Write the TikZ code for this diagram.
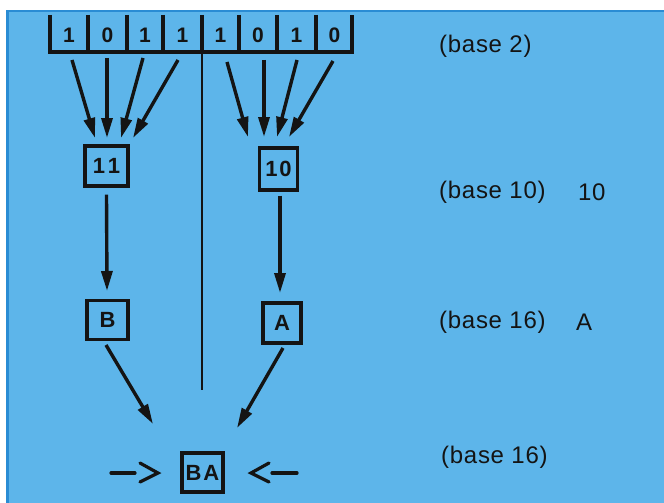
\documentclass[tikz,border=0pt]{standalone}
\usepackage{fontspec}
\setmainfont{Liberation Sans}
\newfontfamily\lblfont[LetterSpace=3]{Liberation Sans}
\newfontfamily\digfont[LetterSpace=8]{Liberation Sans}
\usetikzlibrary{arrows.meta}
\definecolor{bgblue}{HTML}{5DB5EA}
\definecolor{edgeblue}{HTML}{2A8CD4}
\definecolor{ink}{HTML}{141414}
\tikzset{
  bitlbl/.style={font=\fontsize{21}{21}\selectfont\bfseries, text=ink, inner sep=0pt},
  valbox/.style={draw=ink, line width=3.2pt, minimum width=41pt, minimum height=39pt, inner sep=0pt,
                 font=\digfont\fontsize{22}{22}\selectfont\bfseries, text=ink},
  flow/.style={draw=ink, line width=3.4pt, -{Triangle[length=20pt,width=11pt]}},
  baselbl/.style={anchor=west, font=\lblfont\fontsize{24}{24}\selectfont, text=ink, inner sep=0pt},
  regline/.style={draw=ink, line width=3.2pt},
  pointer/.style={draw=ink, line width=3.2pt, line cap=round, line join=miter}
}
\begin{document}
\begin{tikzpicture}[x=1pt,y=-1pt]
\useasboundingbox (0,0) rectangle (664,503);
\fill[white] (0,0) rectangle (664,503);
\fill[bgblue] (7,10) rectangle (664,503);
\draw[edgeblue, line width=2.5pt] (7.5,503) -- (7.5,11) -- (664,11);

% register
\draw[regline] (50,15) -- (50,52) -- (352,52) -- (352,15);
\foreach \x in {88,127,163,239,277,316} {\draw[regline] (\x,15) -- (\x,52);}
\draw[draw=ink, line width=3.2pt] (202,15) -- (202,52);
\draw[draw=ink, line width=1.6pt] (202,52) -- (202,390);

\node[bitlbl] (b1) at (69,35) {1};
\node[bitlbl] (b2) at (107.5,35) {0};
\node[bitlbl] (b3) at (145,35) {1};
\node[bitlbl] (b4) at (182.5,35) {1};
\node[bitlbl] (b5) at (220.5,35) {1};
\node[bitlbl] (b6) at (258,35) {0};
\node[bitlbl] (b7) at (296.5,35) {1};
\node[bitlbl] (b8) at (334.5,35) {0};

% boxes
\node[valbox, minimum width=43pt, minimum height=40pt] (n11) at (106.5,166) {1\kern3pt1};
\node[valbox, minimum width=38pt, minimum height=42pt] (n10) at (278.5,169) {10};
\node[valbox] (nB) at (107.5,320) {B};
\node[valbox, minimum width=38pt, minimum height=40pt] (nA) at (282,323) {A};
\node[valbox] (nBA) at (202.5,472.5) {BA};

% arrow start / end points
\coordinate (s1) at (72,60);   \coordinate (e1) at (95,138);
\coordinate (s2) at (107,58);  \coordinate (e2) at (107,138);
\coordinate (s3) at (143,58);  \coordinate (e3) at (121,138);
\coordinate (s4) at (178,60);  \coordinate (e4) at (133,138);
\coordinate (s5) at (227,62);  \coordinate (e5) at (248,137);
\coordinate (s6) at (264,60);  \coordinate (e6) at (264,137);
\coordinate (s7) at (297,60);  \coordinate (e7) at (277,137);
\coordinate (s8) at (333,61);  \coordinate (e8) at (289,137);

\draw[flow] (s1) -- (e1);
\draw[flow] (s2) -- (e2);
\draw[flow] (s3) -- (e3);
\draw[flow] (s4) -- (e4);
\draw[flow] (s5) -- (e5);
\draw[flow] (s6) -- (e6);
\draw[flow] (s7) -- (e7);
\draw[flow] (s8) -- (e8);

\coordinate (tB) at (107,291);
\coordinate (tA) at (280,293);
\draw[flow] ([yshift=-7pt]n11.south) -- (tB);
\draw[flow] ([xshift=1.5pt,yshift=-4pt]n10.south) -- (tA);

\coordinate (fB) at (106,345);  \coordinate (tBA1) at (153,424);
\coordinate (fA) at (283,348);  \coordinate (tBA2) at (237,428);
\draw[flow] (fB) -- (tBA1);
\draw[flow] (fA) -- (tBA2);

% side pointers to BA
\coordinate (la) at (111,473); \coordinate (lb) at (135,473);
\coordinate (lt) at (158,473);
\draw[pointer] (la) -- (lb);
\draw[pointer] (140,463) -- (lt) -- (140,482);
\coordinate (ra) at (297,473); \coordinate (rb) at (272,473);
\coordinate (rt) at (251,473);
\draw[pointer] (ra) -- (rb);
\draw[pointer] (269,463) -- (rt) -- (269,482);

% labels
\node[baselbl] (l2) at (439,46) {(base 2)};
\node[baselbl] (l10) at (439,192) {(base 10)};
\node[baselbl] (v10) at (578,192) {10};
\node[baselbl] (l16) at (439,322) {(base 16)};
\node[baselbl] (vA) at (576,322) {A};
\node[baselbl] (l16b) at (441,457) {(base 16)};
\end{tikzpicture}
\end{document}
